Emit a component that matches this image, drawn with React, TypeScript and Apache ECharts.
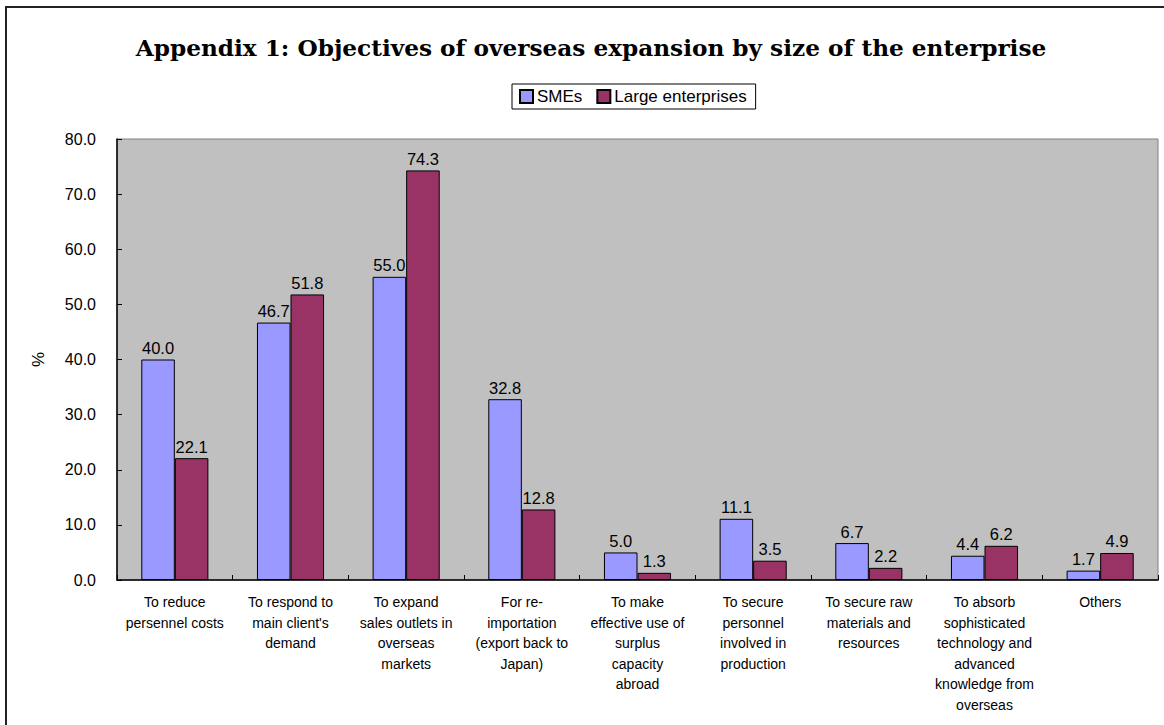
import React, { useEffect, useRef } from "react";
import * as echarts from "echarts";

const categories = [
  "To reduce\npersennel costs",
  "To respond to\nmain client's\ndemand",
  "To expand\nsales outlets in\noverseas\nmarkets",
  "For re-\nimportation\n(export back to\nJapan)",
  "To make\neffective use of\nsurplus\ncapacity\nabroad",
  "To secure\npersonnel\ninvolved in\nproduction",
  "To secure raw\nmaterials and\nresources",
  "To absorb\nsophisticated\ntechnology and\nadvanced\nknowledge from\noverseas",
  "Others",
];
const smes = [40.0, 46.7, 55.0, 32.8, 5.0, 11.1, 6.7, 4.4, 1.7];
const large = [22.1, 51.8, 74.3, 12.8, 1.3, 3.5, 2.2, 6.2, 4.9];
const seriesNames = ["SMEs", "Large enterprises"];
const titleText = "Appendix 1: Objectives of overseas expansion by size of the enterprise";

const SANS = "'Liberation Sans', Arial, sans-serif";

export default function App() {
  const ref = useRef<HTMLDivElement>(null);
  useEffect(() => {
    if (!ref.current) return;
    const chart = echarts.init(ref.current, undefined, { renderer: "svg" });
    const labelStyle = {
      show: true,
      position: "top" as const,
      color: "#000",
      fontSize: 16.5,
      fontFamily: SANS,
      distance: 3,
      formatter: (p: any) => Number(p.value).toFixed(1),
    };
    chart.setOption({
      animation: false,
      backgroundColor: "#fff",
      title: {
        text: titleText,
        left: 586,
        textAlign: "center",
        top: 31,
        textStyle: {
          fontFamily: "'DejaVu Serif', serif",
          fontWeight: "bold",
          fontSize: 23.2,
          color: "#000",
        },
      },
      legend: {
        data: seriesNames,
        left: 512,
        top: 84,
        orient: "horizontal",
        icon: "rect",
        itemWidth: 13,
        itemHeight: 13,
        itemGap: 14,
        padding: [4, 9, 4, 7],
        borderColor: "#000",
        borderWidth: 1,
        backgroundColor: "#fff",
        textStyle: { fontSize: 17, fontFamily: SANS, color: "#000", padding: [0, 0, 0, -1] },
      },
      grid: {
        left: 117,
        right: 6,
        top: 139,
        bottom: 145,
        show: true,
        backgroundColor: "#C0C0C0",
        borderColor: "#808080",
        borderWidth: 1,
      },
      xAxis: {
        type: "category",
        data: categories,
        axisLine: { lineStyle: { color: "#000", width: 1.5 } },
        axisTick: { show: true, inside: true, length: 5, lineStyle: { color: "#000" } },
        axisLabel: {
          interval: 0,
          color: "#000",
          fontSize: 14,
          fontFamily: SANS,
          lineHeight: 20.5,
          margin: 12,
          align: "center",
        },
      },
      yAxis: {
        type: "value",
        min: 0,
        max: 80,
        interval: 10,
        name: "%",
        nameLocation: "middle",
        nameGap: 70,
        nameRotate: 90,
        nameTextStyle: { fontSize: 17, fontFamily: SANS, color: "#000" },
        axisLine: { show: true, lineStyle: { color: "#000", width: 1.5 } },
        axisTick: { show: true, inside: true, length: 5, lineStyle: { color: "#000" } },
        splitLine: { show: false },
        axisLabel: {
          color: "#000",
          fontSize: 16,
          fontFamily: SANS,
          margin: 21,
          formatter: (v: number) => v.toFixed(1),
        },
      },
      series: [
        {
          name: seriesNames[0],
          type: "bar",
          data: smes,
          barGap: "0%",
          barCategoryGap: "42%",
          itemStyle: { color: "#9999FF", borderColor: "#000", borderWidth: 1 },
          label: labelStyle,
        },
        {
          name: seriesNames[1],
          type: "bar",
          data: large,
          barGap: "0%",
          barCategoryGap: "42%",
          itemStyle: { color: "#993366", borderColor: "#000", borderWidth: 1 },
          label: labelStyle,
        },
      ],
      graphic: [
        {
          type: "rect",
          shape: { x: 6, y: 7, width: 1200, height: 800 },
          style: { fill: "none", stroke: "#222", lineWidth: 2 },
          silent: true,
        },
      ],
    });
    return () => chart.dispose();
  }, []);
  return (
    <div
      ref={ref}
      style={{ position: "fixed", left: 0, top: 0, width: 1164, height: 725 }}
    />
  );
}
